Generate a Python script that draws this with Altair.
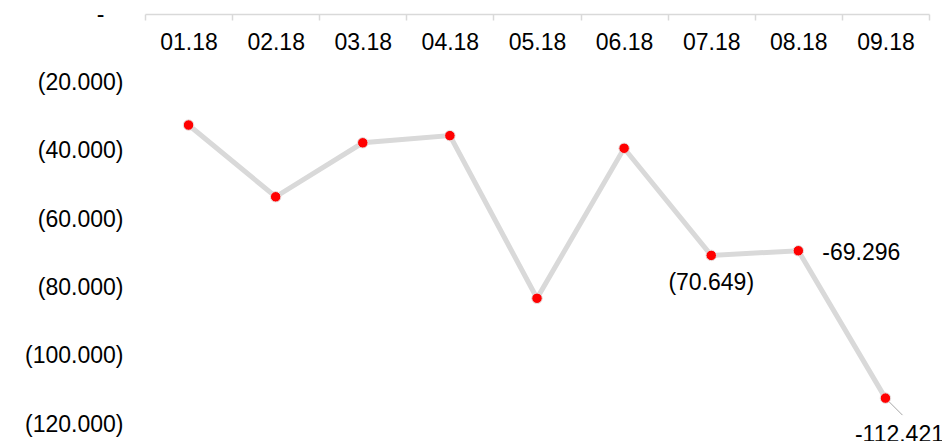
import altair as alt
import pandas as pd

months = ["01.18", "02.18", "03.18", "04.18", "05.18", "06.18", "07.18", "08.18", "09.18"]
values = [-32500, -53500, -37700, -35600, -83200, -39300, -70649, -69296, -112421]
point_labels = ["", "", "", "", "", "", "(70.649)", "-69.296", "-112.421"]
y_ticks = [0, -20000, -40000, -60000, -80000, -100000, -120000]

df = pd.DataFrame({"month": months, "value": values, "label": point_labels})

FONT = "Liberation Sans"
FS = 23

x_enc = alt.X(
    "month:N",
    sort=months,
    scale=alt.Scale(type="band", paddingInner=0, paddingOuter=0),
    axis=alt.Axis(
        orient="bottom",
        offset=-410,
        tickBand="extent",
        domainColor="#d9d9d9",
        domainWidth=1.5,
        tickColor="#d9d9d9",
        tickWidth=1.5,
        tickSize=6,
        labelFont=FONT,
        labelFontSize=FS,
        labelColor="#000000",
        labelPadding=11.5,
        labelAngle=0,
        title=None,
    ),
)
y_enc = alt.Y(
    "value:Q",
    scale=alt.Scale(domain=[-120000, 0], nice=False, zero=False),
    axis=alt.Axis(
        values=y_ticks,
        domain=False,
        ticks=False,
        tickSize=0,
        grid=False,
        labelFont=FONT,
        labelFontSize=FS,
        labelColor="#000000",
        labelPadding=22,
        labelExpr="datum.value == 0 ? '-\u00a0\u00a0\u00a0\u200b' : '(' + replace(format(abs(datum.value), ','), ',', '.') + ')'",
        title=None,
    ),
)

base = alt.Chart(df).encode(x=x_enc, y=y_enc)

line = base.mark_line(color="#d9d9d9", strokeWidth=5)
pts = base.mark_circle(color="#ff0000", size=110, opacity=1, stroke="#e6e6e6", strokeWidth=1)

lbl7 = base.transform_filter(alt.datum.month == "07.18").mark_text(
    font=FONT, fontSize=FS, color="#000000", align="center", baseline="middle", dy=28
).encode(text="label:N")
lbl8 = base.transform_filter(alt.datum.month == "08.18").mark_text(
    font=FONT, fontSize=FS, color="#000000", align="left", baseline="middle", dx=24, dy=2
).encode(text="label:N")
lbl9 = base.transform_filter(alt.datum.month == "09.18").mark_text(
    font=FONT, fontSize=FS, color="#000000", align="center", baseline="top", dx=14, dy=26
).encode(text="label:N")
leader = base.transform_filter(alt.datum.month == "09.18").mark_rule(
    color="#a6a6a6", strokeWidth=1, x2Offset=17, y2Offset=17
).encode(x2="month:N", y2="value:Q")

chart = (
    alt.layer(line, leader, pts, lbl7, lbl8, lbl9)
    .properties(
        width=784,
        height=410,
        autosize=alt.AutoSizeParams(type="none"),
        padding={"left": 137, "top": 6, "right": 13, "bottom": 17},
    )
    .configure(font=FONT)
    .configure_view(stroke=None)
)

chart.save("out.html", embed_options={"renderer": "svg", "actions": False})
